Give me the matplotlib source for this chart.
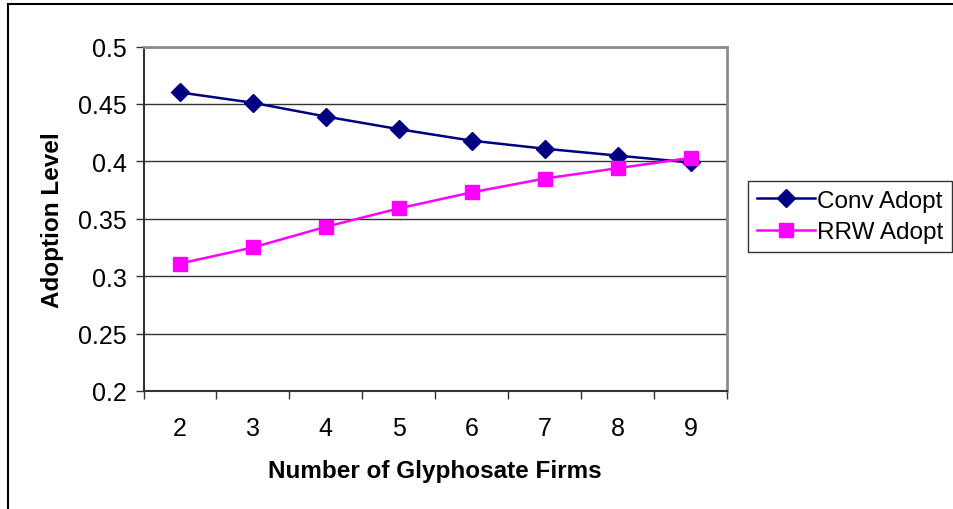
import matplotlib.pyplot as plt
from matplotlib.patches import Rectangle

plt.rcParams['font.family'] = ['Liberation Sans', 'DejaVu Sans']

firms = [2, 3, 4, 5, 6, 7, 8, 9]
conv_adopt = [0.460, 0.451, 0.439, 0.428, 0.418, 0.411, 0.405, 0.399]
rrw_adopt = [0.311, 0.325, 0.343, 0.359, 0.373, 0.385, 0.394, 0.403]
y_ticks = [0.2, 0.25, 0.3, 0.35, 0.4, 0.45, 0.5]
y_labels = ['0.2', '0.25', '0.3', '0.35', '0.4', '0.45', '0.5']

fig = plt.figure(figsize=(9.54, 5.1), dpi=100)
fig.patch.set_facecolor('white')

# outer chart border (runs off the right/bottom edge in the reference)
fig.patches.append(Rectangle((8 / 954, -0.05), 1.1, 1 - 5 / 510 + 0.05,
                             transform=fig.transFigure, fill=False,
                             edgecolor='black', linewidth=1.5))

ax = fig.add_axes([143.5 / 954, 1 - 392 / 510, (727 - 143.5) / 954, (392 - 47.5) / 510])

for y in y_ticks[1:]:
    ax.axhline(y, color='#333333', linewidth=1.0, zorder=1)

ax.plot(firms, conv_adopt, color='#000080', linewidth=1.8, marker='D',
        markersize=9.5, label='Conv Adopt', zorder=3)
ax.plot(firms, rrw_adopt, color='#FF00FF', linewidth=1.8, marker='s',
        markersize=10, label='RRW Adopt', zorder=4)

ax.set_xlim(1.5, 9.5)
ax.set_ylim(0.2, 0.5)
ax.set_yticks(y_ticks)
ax.set_yticklabels(y_labels, fontsize=18)
ax.set_xticks([x + 0.5 for x in [1] + firms])
ax.set_xticklabels([])
ax.set_xticks(firms, minor=True)
ax.set_xticklabels([str(f) for f in firms], minor=True, fontsize=18)
ax.tick_params(axis='x', which='major', direction='out', length=6, width=1, color='#333333')
ax.tick_params(axis='x', which='minor', length=0, pad=18)
ax.tick_params(axis='y', direction='out', length=6, width=1, color='#333333', pad=6)

for side in ['left', 'bottom']:
    ax.spines[side].set_color('#333333')
    ax.spines[side].set_linewidth(1.5)
for side in ['top', 'right']:
    ax.spines[side].set_color('#8c8c8c')
    ax.spines[side].set_linewidth(2)

ax.set_xlabel('Number of Glyphosate Firms', fontsize=17.5, fontweight='bold', labelpad=14)
ax.set_ylabel('Adoption Level', fontsize=17.5, fontweight='bold', labelpad=10)

leg = fig.legend(loc='upper left', bbox_to_anchor=(748 / 954, 1 - 182 / 510),
                 fontsize=17.5, frameon=True, fancybox=False, edgecolor='black',
                 handlelength=2.4, handletextpad=0.1, borderpad=0.35,
                 labelspacing=0.4, borderaxespad=0)
leg.get_frame().set_linewidth(1.0)

fig.savefig('out.png', dpi=100)
